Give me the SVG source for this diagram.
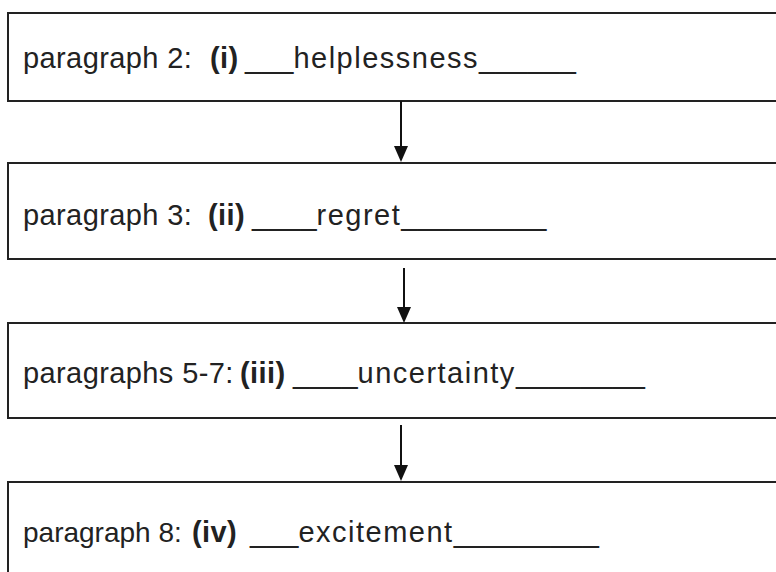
<svg xmlns="http://www.w3.org/2000/svg" width="776" height="572" viewBox="0 0 776 572">
<style>
.box{fill:#fff;stroke:#222;stroke-width:2}
.t{font-family:"Liberation Sans",Arial,sans-serif;font-size:29px;fill:#222;letter-spacing:0.4px}
.b{font-weight:bold}
.w{letter-spacing:1.5px}
.u{letter-spacing:0}
.n{letter-spacing:0;font-size:28px}
.conn{stroke:#111;stroke-width:2;fill:none}
.head{fill:#111}
</style>
<rect width="776" height="572" fill="#fff"/>
<g id="node1">
<rect class="box" x="8" y="13" width="790" height="88"/>
<text class="t" y="68"><tspan x="23">paragraph 2:</tspan><tspan class="b" x="210">(i)</tspan><tspan class="u" x="245">___</tspan><tspan class="w">helplessness</tspan><tspan class="u">______</tspan></text>
</g>
<g id="node2">
<rect class="box" x="8" y="163" width="790" height="96"/>
<text class="t" y="225"><tspan x="23">paragraph 3:</tspan><tspan class="b" x="208">(ii)</tspan><tspan class="u" x="252">____</tspan><tspan class="w">regret</tspan><tspan class="u">_________</tspan></text>
</g>
<g id="node3">
<rect class="box" x="8" y="323" width="790" height="95"/>
<text class="t" y="383"><tspan x="23">paragraphs 5-7:</tspan><tspan class="b" x="240">(iii)</tspan><tspan class="u" x="293">____</tspan><tspan class="w">uncertainty</tspan><tspan class="u">________</tspan></text>
</g>
<g id="node4">
<rect class="box" x="8" y="482" width="790" height="110"/>
<text class="t" y="542"><tspan class="n" x="23">paragraph 8:</tspan><tspan class="b" x="192">(iv)</tspan><tspan class="u" x="250">___</tspan><tspan class="w">excitement</tspan><tspan class="u">_________</tspan></text>
</g>
<g id="connectors">
<line class="conn" x1="401" y1="101" x2="401" y2="147"/>
<path class="head" d="M394,146 L408,146 L401,162 Z"/>
<line class="conn" x1="404" y1="268" x2="404" y2="308"/>
<path class="head" d="M397,307 L411,307 L404,323 Z"/>
<line class="conn" x1="401" y1="425" x2="401" y2="466"/>
<path class="head" d="M394,465 L408,465 L401,481 Z"/>
</g>
</svg>
